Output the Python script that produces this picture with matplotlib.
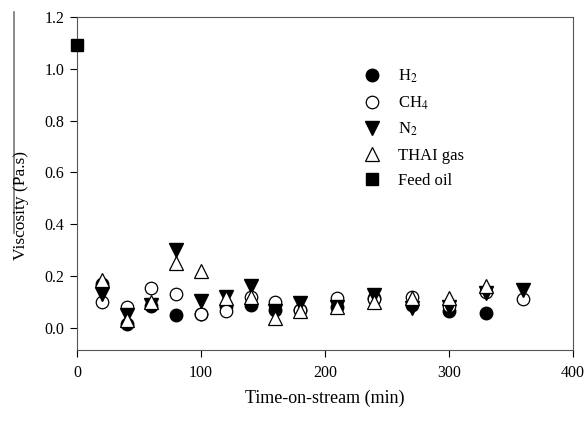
import matplotlib
matplotlib.use("Agg")
import matplotlib.pyplot as plt
from matplotlib.lines import Line2D

plt.rcParams['font.family'] = ['Liberation Serif', 'DejaVu Serif']
plt.rcParams['mathtext.fontset'] = 'stix'

time = [20, 40, 60, 80, 100, 120, 140, 160, 180, 210, 240, 270, 300, 330]
time_ch4 = [20, 40, 60, 80, 100, 120, 140, 160, 180, 210, 240, 270, 300, 330, 360]
time_n2 = [20, 40, 60, 80, 100, 120, 140, 160, 180, 210, 240, 270, 300, 330, 360]
time_thai = [20, 40, 60, 80, 100, 120, 140, 160, 180, 210, 240, 270, 300, 330]

h2 = [0.17, 0.015, 0.085, 0.05, 0.055, 0.085, 0.09, 0.07, 0.07, 0.08, 0.115, 0.09, 0.065, 0.058]
ch4 = [0.10, 0.08, 0.155, 0.13, 0.055, 0.065, 0.12, 0.10, 0.07, 0.115, 0.11, 0.12, 0.085, 0.14, 0.11]
n2 = [0.13, 0.05, 0.09, 0.30, 0.105, 0.12, 0.16, 0.065, 0.095, 0.08, 0.125, 0.075, 0.08, 0.135, 0.145]
thai = [0.185, 0.03, 0.10, 0.25, 0.22, 0.115, 0.12, 0.04, 0.065, 0.08, 0.10, 0.115, 0.115, 0.16]

feed_time = [0]
feed = [1.09]

fig = plt.figure(figsize=(5.88, 4.32), dpi=100)
ax = fig.add_axes([0.131, 0.190, 0.843, 0.771])

ms = 9
ax.plot(time, h2, 'o', color='black', markersize=ms, linestyle='none', label='H$_2$', zorder=3, clip_on=False)
ax.plot(time_ch4, ch4, 'o', markerfacecolor='white', markeredgecolor='black', markersize=ms,
        markeredgewidth=0.9, linestyle='none', label='CH$_4$', zorder=4, clip_on=False)
ax.plot(time_n2, n2, 'v', color='black', markersize=ms + 1, linestyle='none', label='N$_2$', zorder=5, clip_on=False)
ax.plot(time_thai, thai, '^', markerfacecolor='white', markeredgecolor='black', markersize=ms + 1,
        markeredgewidth=0.9, linestyle='none', label='THAI gas', zorder=6, clip_on=False)
ax.plot(feed_time, feed, 's', color='black', markersize=ms - 0.5, linestyle='none', label='Feed oil', zorder=7, clip_on=False)

ax.set_xlim(0, 400)
ax.set_ylim(-0.085, 1.2)
ax.set_xticks([0, 100, 200, 300, 400])
ax.set_yticks([0.0, 0.2, 0.4, 0.6, 0.8, 1.0, 1.2])
ax.set_yticklabels(['0.0', '0.2', '0.4', '0.6', '0.8', '1.0', '1.2'])
ax.tick_params(direction='out', length=5, width=0.8, labelsize=11.5, colors='black', pad=4)
ax.tick_params(axis='x', pad=6)
for s in ax.spines.values():
    s.set_linewidth(0.8)
    s.set_color('#555555')

ax.set_xlabel('Time-on-stream (min)', fontsize=13, labelpad=6)
fig.text(0.036, 1 - 206 / 432, 'Viscosity (Pa.s)', rotation=90, fontsize=12.5,
         ha='center', va='center')
fig.add_artist(Line2D([13.5 / 588, 13.5 / 588], [1 - 12 / 432, 1 - 233 / 432],
                      color='#777777', linewidth=1.2, transform=fig.transFigure))

leg = ax.legend(loc='upper left', bbox_to_anchor=(0.561, 0.867), frameon=False, fontsize=12,
                handletextpad=1.0, labelspacing=0.55, handlelength=1.2, borderaxespad=0)

fig.savefig('out.png', dpi=100)
